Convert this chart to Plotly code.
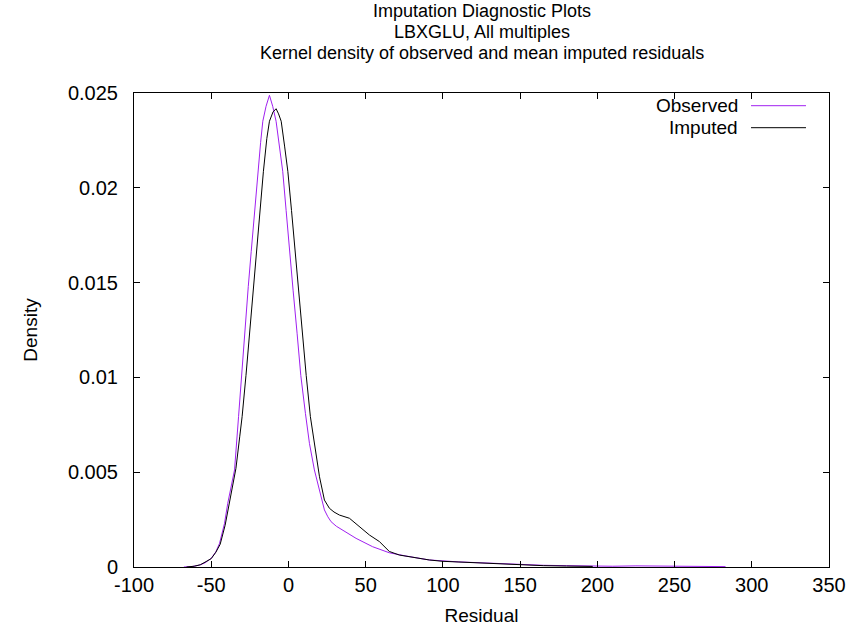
import plotly.graph_objects as go

# kernel density of observed residuals
obs_x = [-67.7, -62, -57.6, -54, -50, -47, -44.6, -41.4, -39.3, -37.1, -34.9, -32.3, -30, -28.5, -26,
         -24.1, -22, -19.8, -18, -16.6, -14.5, -12.3, -10.2, -8.0, -6, -3.7, -1.5, 0.6, 3, 5.6, 8,
         11.0, 13.6, 16.8, 20.1, 23.3, 25.5, 27.6, 31, 35.1, 43.8, 54.5, 65.3, 76.1, 91.2, 110, 123.5,
         135, 149.4, 165, 180, 196.8, 210, 225, 240, 255, 270, 283]
obs_y = [0, 0.00003, 0.0001, 0.00022, 0.00046, 0.0008, 0.00125, 0.0023, 0.00336, 0.00424, 0.00512,
         0.00793, 0.0106, 0.01233, 0.0148, 0.01665, 0.0187, 0.02087, 0.0224, 0.02351, 0.0243, 0.02488,
         0.0243, 0.02351, 0.0222, 0.02087, 0.0188, 0.01665, 0.0146, 0.01233, 0.0101, 0.0081, 0.00652,
         0.00512, 0.00406, 0.00301, 0.00265, 0.00239, 0.00215, 0.00195, 0.00151, 0.00107, 0.00075,
         0.00058, 0.00037, 0.00027, 0.00022, 0.00017, 0.00012, 0.00009, 0.00007, 0.00005, 0.00004,
         0.00006, 0.00005, 0.00003, 0.00003, 0.00002]

# kernel density of mean imputed residuals
imp_x = [-66, -61, -57, -53, -50, -47, -44.2, -41, -38.5, -36.3, -34, -31.5, -30, -27.5, -25.2, -23,
         -20.9, -18.5, -16.2, -14, -12.3, -10, -8.0, -6.4, -4.7, -2.5, -0.4, 2, 4.3, 6.5, 8.9, 11.5,
         14.2, 16.8, 20.1, 23.3, 26.5, 29.5, 33.0, 39.5, 45.9, 52.4, 58.9, 65.3, 71.8, 80.4, 91.2,
         99.8, 110, 123.5, 135, 149.4, 165, 180, 197]
imp_y = [0, 0.00004, 0.00012, 0.00028, 0.00044, 0.00078, 0.0012, 0.0022, 0.0033, 0.0042, 0.0052,
         0.0069, 0.00793, 0.0101, 0.01233, 0.0146, 0.01665, 0.0188, 0.02087, 0.0226, 0.02351, 0.024,
         0.02417, 0.0239, 0.02351, 0.0222, 0.02087, 0.0188, 0.01665, 0.0146, 0.01233, 0.0101, 0.00793,
         0.00652, 0.00476, 0.00353, 0.0031, 0.0029, 0.00274, 0.00257, 0.00213, 0.00169, 0.00134,
         0.00082, 0.00063, 0.00051, 0.00037, 0.0003, 0.00026, 0.0002, 0.00016, 0.0001, 0.00007,
         0.00005, 0.00003]

x_ticks = [-100, -50, 0, 50, 100, 150, 200, 250, 300, 350]
y_ticks = [0, 0.005, 0.01, 0.015, 0.02, 0.025]
y_labels = ["0", "0.005", "0.01", "0.015", "0.02", "0.025"]
title_lines = ["Imputation Diagnostic Plots", "LBXGLU, All multiples",
               "Kernel density of observed and mean imputed residuals"]
series_names = ["Observed", "Imputed"]
series_colors = ["#a020f0", "#000000"]

FONT = "Liberation Sans, Arial, sans-serif"
PLOT_H = 629 - 93 - 62

fig = go.Figure()
fig.add_trace(go.Scatter(x=obs_x, y=obs_y, mode="lines", name=series_names[0],
                         line=dict(color=series_colors[0], width=1), showlegend=False))
fig.add_trace(go.Scatter(x=imp_x, y=imp_y, mode="lines", name=series_names[1],
                         line=dict(color=series_colors[1], width=1), showlegend=False))

axis_common = dict(showline=True, linecolor="black", linewidth=1, mirror="allticks",
                   ticks="inside", ticklen=6, tickcolor="black", showgrid=False, zeroline=False,
                   automargin=False, tickfont=dict(family=FONT, size=20, color="black"))

fig.update_xaxes(range=[-100, 350], tickvals=x_ticks, ticktext=[str(v) for v in x_ticks],
                 title=dict(text="Residual", font=dict(family=FONT, size=19, color="black"), standoff=13),
                 ticklabelstandoff=0, **axis_common)
fig.update_yaxes(range=[0, 0.025], tickvals=y_ticks, ticktext=y_labels,
                 title=dict(text="Density", font=dict(family=FONT, size=19, color="black"), standoff=25),
                 ticklabelstandoff=11, **axis_common)

# three title lines, packed tightly like the original
for i, line in enumerate(title_lines):
    ypx = 11 + i * 21
    fig.add_annotation(text=line, xref="paper", yref="paper", x=0.5, y=1 + (93 - ypx) / PLOT_H,
                       xanchor="center", yanchor="middle", showarrow=False, borderpad=0,
                       font=dict(family=FONT, size=18, color="black"))

# legend: right-aligned text with line sample to the right
for i, (nm, col) in enumerate(zip(series_names, series_colors)):
    ypx = 105.7 + i * 22
    yy = 1 - (ypx - 93) / PLOT_H
    fig.add_annotation(text=nm, xref="paper", yref="paper", x=0.87, y=yy,
                       xanchor="right", yanchor="middle", showarrow=False, borderpad=0,
                       font=dict(family=FONT, size=19, color="black"))
    fig.add_shape(type="line", xref="paper", yref="paper", x0=0.8878, x1=0.9669, y0=yy, y1=yy,
                  line=dict(color=col, width=1))

fig.update_layout(width=856, height=629, margin=dict(l=134, r=27, t=93, b=62),
                  plot_bgcolor="white", paper_bgcolor="white",
                  font=dict(family=FONT, color="black"))

# drop the default 8px body margin so the figure fills the window
fig.write_html("out.html", config={"displayModeBar": False},
               post_script="document.body.style.margin='0px';")
